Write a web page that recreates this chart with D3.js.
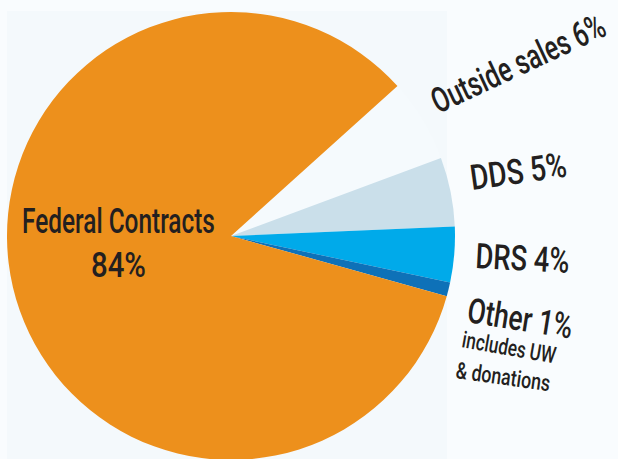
<!DOCTYPE html>
<html>
<head>
<meta charset="utf-8">
<script src="https://cdn.jsdelivr.net/npm/d3@7"></script>
<style>
html,body{margin:0;padding:0;background:#f9fcfe;}
svg{display:block;}
</style>
</head>
<body>
<svg id="chart" width="618" height="459"></svg>
<script>
// Data
const categories = ["Outside sales", "DDS", "DRS", "Other", "Federal Contracts"];
const values = [6, 5, 4, 1, 84];
const colors = ["#f5fafd", "#cadfea", "#00aaea", "#0e71b8", "#ed901c"];

const svg = d3.select("#chart");
const W = 618, H = 459;
const cx = 231, cy = 236, R = 224;

svg.append("rect").attr("x", 7).attr("y", 11).attr("width", 440).attr("height", H - 11).attr("fill", "#f4f9fc");

const pie = d3.pie().sort(null).value(d => d)
  .startAngle(48 * Math.PI / 180).endAngle(48 * Math.PI / 180 + 2 * Math.PI);
const arc = d3.arc().innerRadius(0).outerRadius(R);

const g = svg.append("g").attr("transform", `translate(${cx},${cy})`);
g.selectAll("path").data(pie(values)).join("path")
  .attr("d", arc)
  .attr("fill", (d, i) => colors[i]);

// Labels (horizontally condensed to mimic a condensed face)
const font = "Roboto, 'DejaVu Sans Condensed', sans-serif";
function label(text, x, y, rot, size, len) {
  const t = svg.append("text")
    .attr("font-family", font)
    .attr("font-size", size)
    .attr("font-weight", 500)
    .attr("fill", "#231f20")
    .text(text);
  const natural = t.node().getComputedTextLength();
  const sx = len / natural;
  t.attr("transform", `translate(${x},${y}) rotate(${rot}) scale(${sx},1)`);
}
label(`${categories[4]}`, 22, 233, 0, 35, 193);
label(`${values[4]}%`, 91, 277, 0, 35, 55);
label(`${categories[0]} ${values[0]}%`, 438, 114, -25, 35, 188);
label(`${categories[1]} ${values[1]}%`, 472, 190, -8, 35, 97);
label(`${categories[2]} ${values[2]}%`, 475, 268, 3, 35, 94);
label(`${categories[3]} ${values[3]}%`, 466, 322, 9, 35, 106);
label("includes UW", 461, 347, 10, 23, 95);
label("& donations", 455, 378, 8, 23, 95);
</script>
</body>
</html>
